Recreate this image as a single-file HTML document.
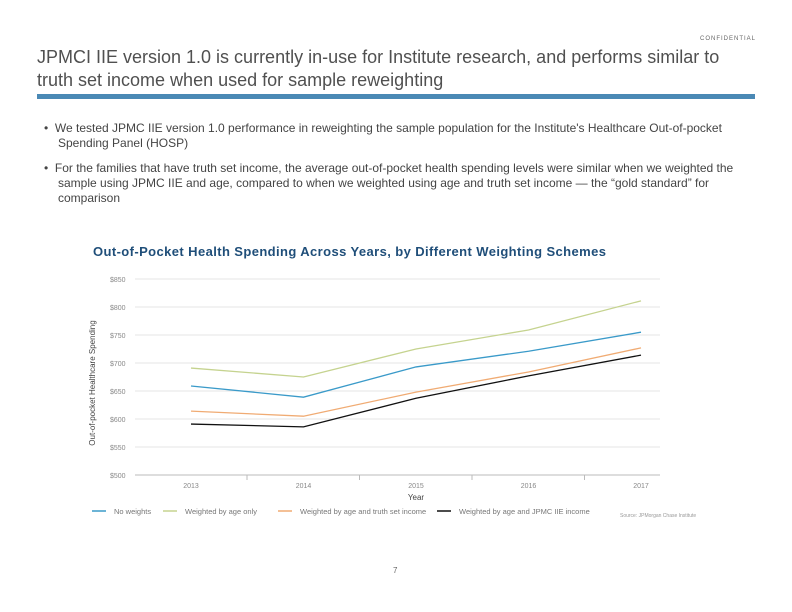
<!DOCTYPE html>
<html><head><meta charset="utf-8"><style>
body{margin:0;width:792px;height:612px;background:#fff;font-family:"Liberation Sans",sans-serif;position:relative;overflow:hidden}
.a{position:absolute}
</style></head><body>
<div class="a" style="left:700px;top:36px;font-size:6px;letter-spacing:1px;color:#666">CONFIDENTIAL</div>
<div class="a" style="left:37px;top:46px;width:740px;font-size:18px;line-height:23px;color:#505050">JPMCI IIE version 1.0 is currently in-use for Institute research, and performs similar to<br>truth set income when used for sample reweighting</div>
<div class="a" style="left:37px;top:94px;width:718px;height:5px;background:#4a89b5"></div>
<div class="a" style="left:44px;top:121px;width:740px;font-size:12px;line-height:14.5px;color:#444;padding-left:14px;text-indent:-14px">•&nbsp;&nbsp;We tested JPMC IIE version 1.0 performance in reweighting the sample population for the Institute's Healthcare Out-of-pocket<br>Spending Panel (HOSP)</div>
<div class="a" style="left:44px;top:161px;width:740px;font-size:12px;line-height:15px;color:#444;padding-left:14px;text-indent:-14px">•&nbsp;&nbsp;For the families that have truth set income, the average out-of-pocket health spending levels were similar when we weighted the<br>sample using JPMC IIE and age, compared to when we weighted using age and truth set income — the “gold standard” for<br>comparison</div>
<div class="a" style="left:93px;top:244px;font-size:13px;font-weight:bold;letter-spacing:0.4px;color:#1f4e79">Out-of-Pocket Health Spending Across Years, by Different Weighting Schemes</div>
<svg class="a" style="left:0;top:0" width="792" height="612" id="chart"></svg>
<div class="a" style="left:393px;top:566px;font-size:8px;color:#666">7</div>
<script>
const years=["2013","2014","2015","2016","2017"];
const yTicks=[500,550,600,650,700,750,800,850];
const noWeights=[659,639,693,721,755];
const ageOnly=[691,675,725,759,811];
const ageTruth=[614,605,648,684,727];
const ageJpmc=[591,586,637,677,714];
const seriesNames=["No weights","Weighted by age only","Weighted by age and truth set income","Weighted by age and JPMC IIE income"];
const ns="http://www.w3.org/2000/svg",svg=document.getElementById('chart');
function x(i){return 191+i*112.5}
function y(v){return 475-(v-500)*28/50}
function mk(t,a,p){const e=document.createElementNS(ns,t);for(const k in a)e.setAttribute(k,a[k]);(p||svg).appendChild(e);return e}
yTicks.forEach(v=>{
 const g=mk('line',{x1:135,x2:660,y1:y(v),y2:y(v),stroke:v===500?'#bbb':'#e6e6e6','stroke-width':1});
 
 
 const t=mk('text',{x:110,y:y(v)+3,'font-size':7,fill:'#888'});t.textContent='$'+v;
 
 
});
years.forEach((yr,i)=>{
 const t=mk('text',{x:x(i),y:488,'font-size':7,fill:'#888','text-anchor':'middle'});t.textContent=yr;
 
 
 if(i<4){const k=mk('line',{x1:x(i)+56,x2:x(i)+56,y1:475,y2:480,stroke:'#bbb'});
 
 }
});
const xt=mk('text',{x:416,y:500,'font-size':8,fill:'#444','text-anchor':'middle'});xt.textContent='Year';


const yt=mk('text',{x:0,y:0,'font-size':8,fill:'#444','text-anchor':'middle',transform:'translate(95,383) rotate(-90)'});yt.textContent='Out-of-pocket Healthcare Spending';


const colors=['#3a9ac9','#c5d38f','#f0ab73','#111'];
[noWeights,ageOnly,ageTruth,ageJpmc].forEach((s,j)=>{
 const p=mk('polyline',{points:s.map((v,i)=>x(i)+','+y(v)).join(' '),fill:'none',stroke:colors[j],'stroke-width':1.3});
 
 
});
const lx=[92,163,278,437];
seriesNames.forEach((n,j)=>{
 const l=mk('line',{x1:lx[j],x2:lx[j]+14,y1:511,y2:511,stroke:colors[j],'stroke-width':1.5});
 
 
 const t=mk('text',{x:lx[j]+22,y:514,'font-size':7.5,fill:'#777'});t.textContent=n;
 
 
});
const src=mk('text',{x:620,y:517,'font-size':5,fill:'#999'});src.textContent='Source: JPMorgan Chase Institute';


</script>
</body></html>
